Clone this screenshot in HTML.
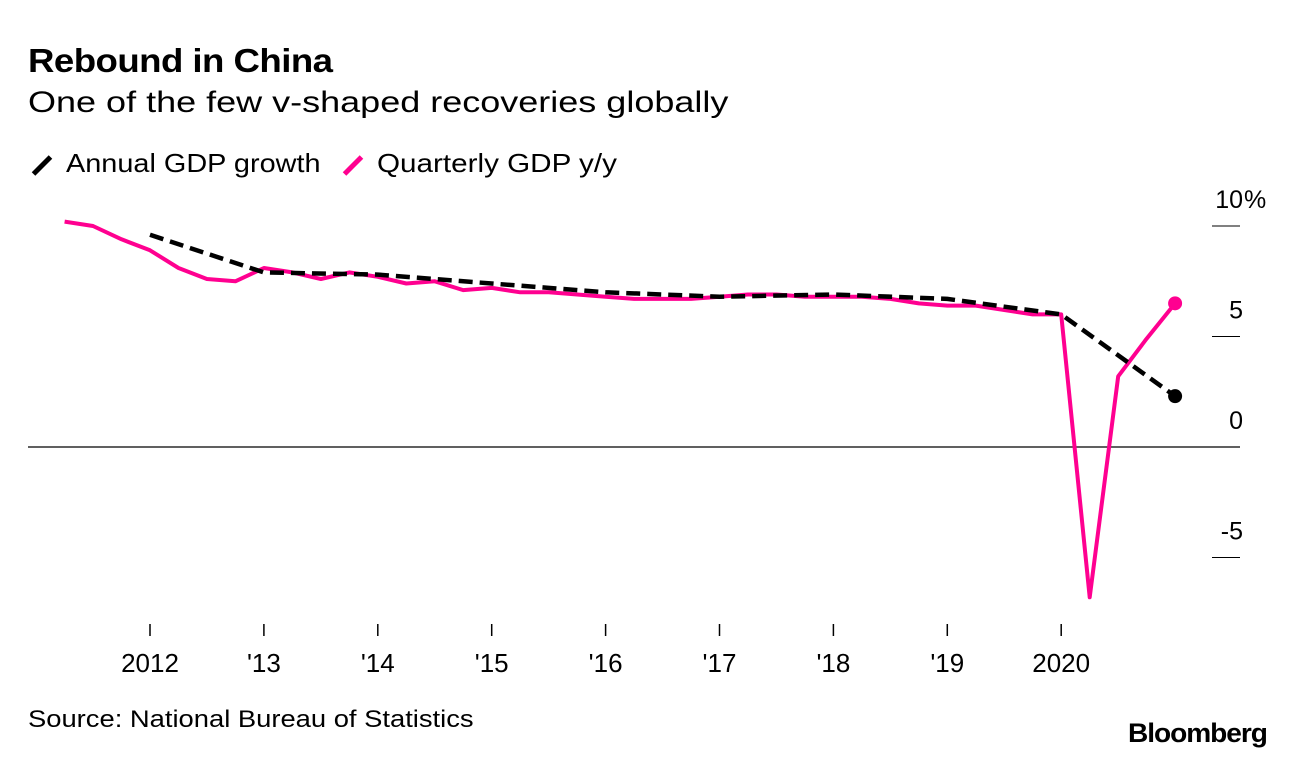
<!DOCTYPE html>
<html><head><meta charset="utf-8"><style>
body{margin:0;background:#fff;font-family:"Liberation Sans",Arial,sans-serif;}
#wrap{position:relative;width:1296px;height:760px;overflow:hidden;}
.t{position:absolute;white-space:nowrap;color:#000;transform-origin:0 0;}
</style></head><body>
<div id="wrap">
<div class="t" style="left:28px;top:42px;font-size:33px;font-weight:bold;letter-spacing:-0.5px;transform:scaleX(1.11)">Rebound in China</div>
<div class="t" style="left:28px;top:86px;font-size:30px;transform:scaleX(1.2)">One of the few v-shaped recoveries globally</div>
<div class="t" style="left:30px;top:148px;font-size:26px"><span style="display:inline-block;width:24px;height:5px;background:#000;transform:rotate(-45deg);vertical-align:middle;margin-right:12px"></span><span style="display:inline-block;transform:scaleX(1.11);transform-origin:0 0">Annual GDP growth</span></div>
<div class="t" style="left:341px;top:148px;font-size:26px"><span style="display:inline-block;width:24px;height:5px;background:#ff0090;transform:rotate(-45deg);vertical-align:middle;margin-right:12px"></span><span style="display:inline-block;transform:scaleX(1.14);transform-origin:0 0">Quarterly GDP y/y</span></div>
<svg id="chart" width="1296" height="760" style="position:absolute;left:0;top:0"></svg>
<div class="t" style="left:28px;top:706px;font-size:24px;transform:scaleX(1.14)">Source: National Bureau of Statistics</div>
<div class="t" style="left:1128px;top:718px;font-size:27px;font-weight:bold;letter-spacing:-1px;transform:scaleX(1.04)">Bloomberg</div>
</div>
<script>
const annualX=[2012,2013,2014,2015,2016,2017,2018,2019,2020,2021];
const annualY=[9.6,7.9,7.8,7.4,7.0,6.8,6.9,6.7,6.0,2.3];
const quarterY=[10.2,10.0,9.4,8.9,8.1,7.6,7.5,8.1,7.9,7.6,7.9,7.7,7.4,7.5,7.1,7.2,7.0,7.0,6.9,6.8,6.7,6.7,6.7,6.8,6.9,6.9,6.8,6.8,6.8,6.7,6.5,6.4,6.4,6.2,6.0,6.0,-6.8,3.2,4.9,6.5];
const quarterStart=2011.25;
const yTicks=[10,5,0,-5];
const yTickLabels=["10","5","0","-5"];
const xTicks=[2012,2013,2014,2015,2016,2017,2018,2019,2020];
const xTickLabels=["2012","'13","'14","'15","'16","'17","'18","'19","2020"];
const NS="http://www.w3.org/2000/svg";
const svg=document.getElementById('chart');
const X=v=>150+(v-2012)*113.9;
const Y=v=>447-v*22.1;
function mk(tag,attrs){const e=document.createElementNS(NS,tag);for(const k in attrs)e.setAttribute(k,attrs[k]);svg.appendChild(e);return e;}
yTicks.forEach((t,i)=>{
  const l=mk('line',{x1:1212,x2:1240,y1:Y(t),y2:Y(t),stroke:'#000','stroke-width':1});
  
  
  const tx=mk('text',{x:1243,y:Y(t)-18,'text-anchor':'end','font-size':25,'font-family':'Liberation Sans, sans-serif'});
  tx.textContent=yTickLabels[i];
  
  
  if(i===0){
    const p=mk('text',{x:1244,y:Y(t)-18,'font-size':25,'font-family':'Liberation Sans, sans-serif'});
    p.textContent='%';
    
    
  }
});
const zl=mk('line',{x1:28,x2:1240,y1:Y(0),y2:Y(0),stroke:'#000','stroke-width':1.2});


xTicks.forEach((t,i)=>{
  const l=mk('line',{x1:X(t),x2:X(t),y1:624,y2:636,stroke:'#000','stroke-width':1.5});
  
  
  const tx=mk('text',{x:X(t),y:672,'text-anchor':'middle','font-size':26,'font-family':'Liberation Sans, sans-serif'});
  tx.textContent=xTickLabels[i];
  
  
});
const qp=quarterY.map((v,i)=>X(quarterStart+i*0.25).toFixed(1)+','+Y(v).toFixed(1)).join(' ');
const ql=mk('polyline',{points:qp,fill:'none',stroke:'#ff0090','stroke-width':4,'stroke-linejoin':'round'});


const ap=annualY.map((v,i)=>X(annualX[i]).toFixed(1)+','+Y(v).toFixed(1)).join(' ');
const al=mk('polyline',{points:ap,fill:'none',stroke:'#000','stroke-width':4.5,'stroke-dasharray':'14 7'});


const qn=quarterY.length-1;
const qd=mk('circle',{cx:X(quarterStart+qn*0.25),cy:Y(quarterY[qn]),r:7,fill:'#ff0090'});


const an=annualY.length-1;
const ad=mk('circle',{cx:X(annualX[an]),cy:Y(annualY[an]),r:7,fill:'#000'});


</script>
</body></html>
